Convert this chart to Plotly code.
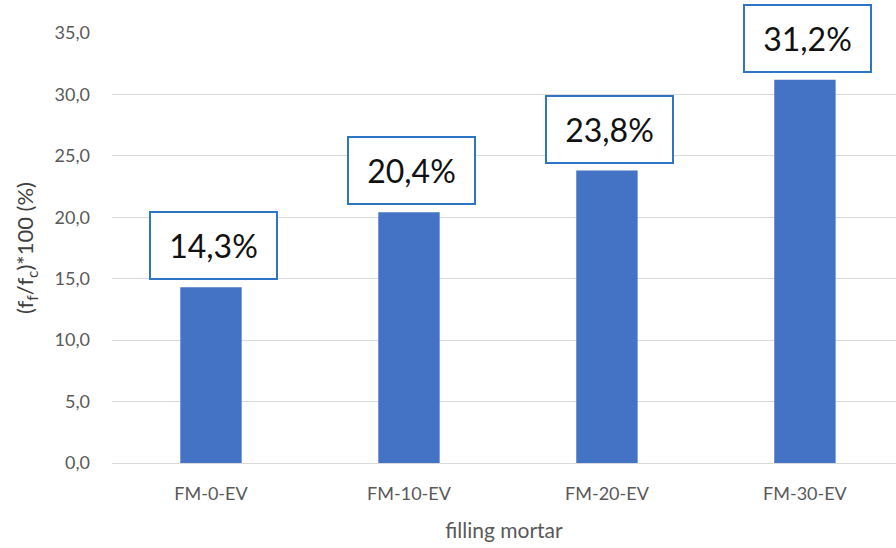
import plotly.graph_objects as go

# Flexural / compressive strength ratio per filling mortar
categories = ["FM-0-EV", "FM-10-EV", "FM-20-EV", "FM-30-EV"]
ratio_pct = [14.3, 20.4, 23.8, 31.2]
y_ticks = [0, 5, 10, 15, 20, 25, 30, 35]

FONT = "Lato, 'Open Sans', sans-serif"
BAR_COLOR = "#4472C4"
BOX_COLOR = "#2E75C6"
GRID = "#D9D9D9"

xpos = list(range(len(categories)))

fig = go.Figure(
    go.Bar(
        x=xpos,
        y=ratio_pct,
        width=0.31,
        marker=dict(color=BAR_COLOR, line=dict(width=0)),
        hoverinfo="skip",
    )
)

for xi, v in zip(xpos, ratio_pct):
    fig.add_annotation(
        x=xi,
        y=v,
        xref="x",
        yref="y",
        yanchor="bottom",
        yshift=7,
        xshift=3,
        text=f"{v:.1f}%".replace(".", ","),
        showarrow=False,
        font=dict(family=FONT, size=32, color="#111111"),
        bgcolor="white",
        bordercolor=BOX_COLOR,
        borderwidth=2,
        borderpad=2,
        width=121,
        height=61,
        align="center",
    )

fig.update_layout(
    width=896,
    height=548,
    margin=dict(l=112, r=0, t=33, b=85),
    paper_bgcolor="white",
    plot_bgcolor="white",
    showlegend=False,
    separators=",.",
    font=dict(family=FONT, color="#595959"),
    xaxis=dict(
        range=[-0.5, 3.46],
        tickmode="array",
        tickvals=xpos,
        ticktext=categories,
        tickfont=dict(size=18, color="#595959"),
        showgrid=False,
        zeroline=False,
        showline=True,
        linecolor=GRID,
        linewidth=1,
        ticks="",
        ticklabelstandoff=14,
        title=dict(text="filling mortar", font=dict(size=21, color="#595959"), standoff=20),
    ),
    yaxis=dict(
        range=[0, 35],
        tickmode="array",
        tickvals=y_ticks,
        tickformat=".1f",
        tickfont=dict(size=18, color="#595959"),
        showgrid=True,
        gridcolor=GRID,
        gridwidth=1,
        zeroline=False,
        showline=False,
        ticks="",
        ticklabelstandoff=21,
        title=dict(
            text="(f<sub>f</sub>/f<sub>c</sub>)*100 (%)",
            font=dict(size=22, color="#404040"),
            standoff=14,
        ),
    ),
)

fig.write_html("out.html")
